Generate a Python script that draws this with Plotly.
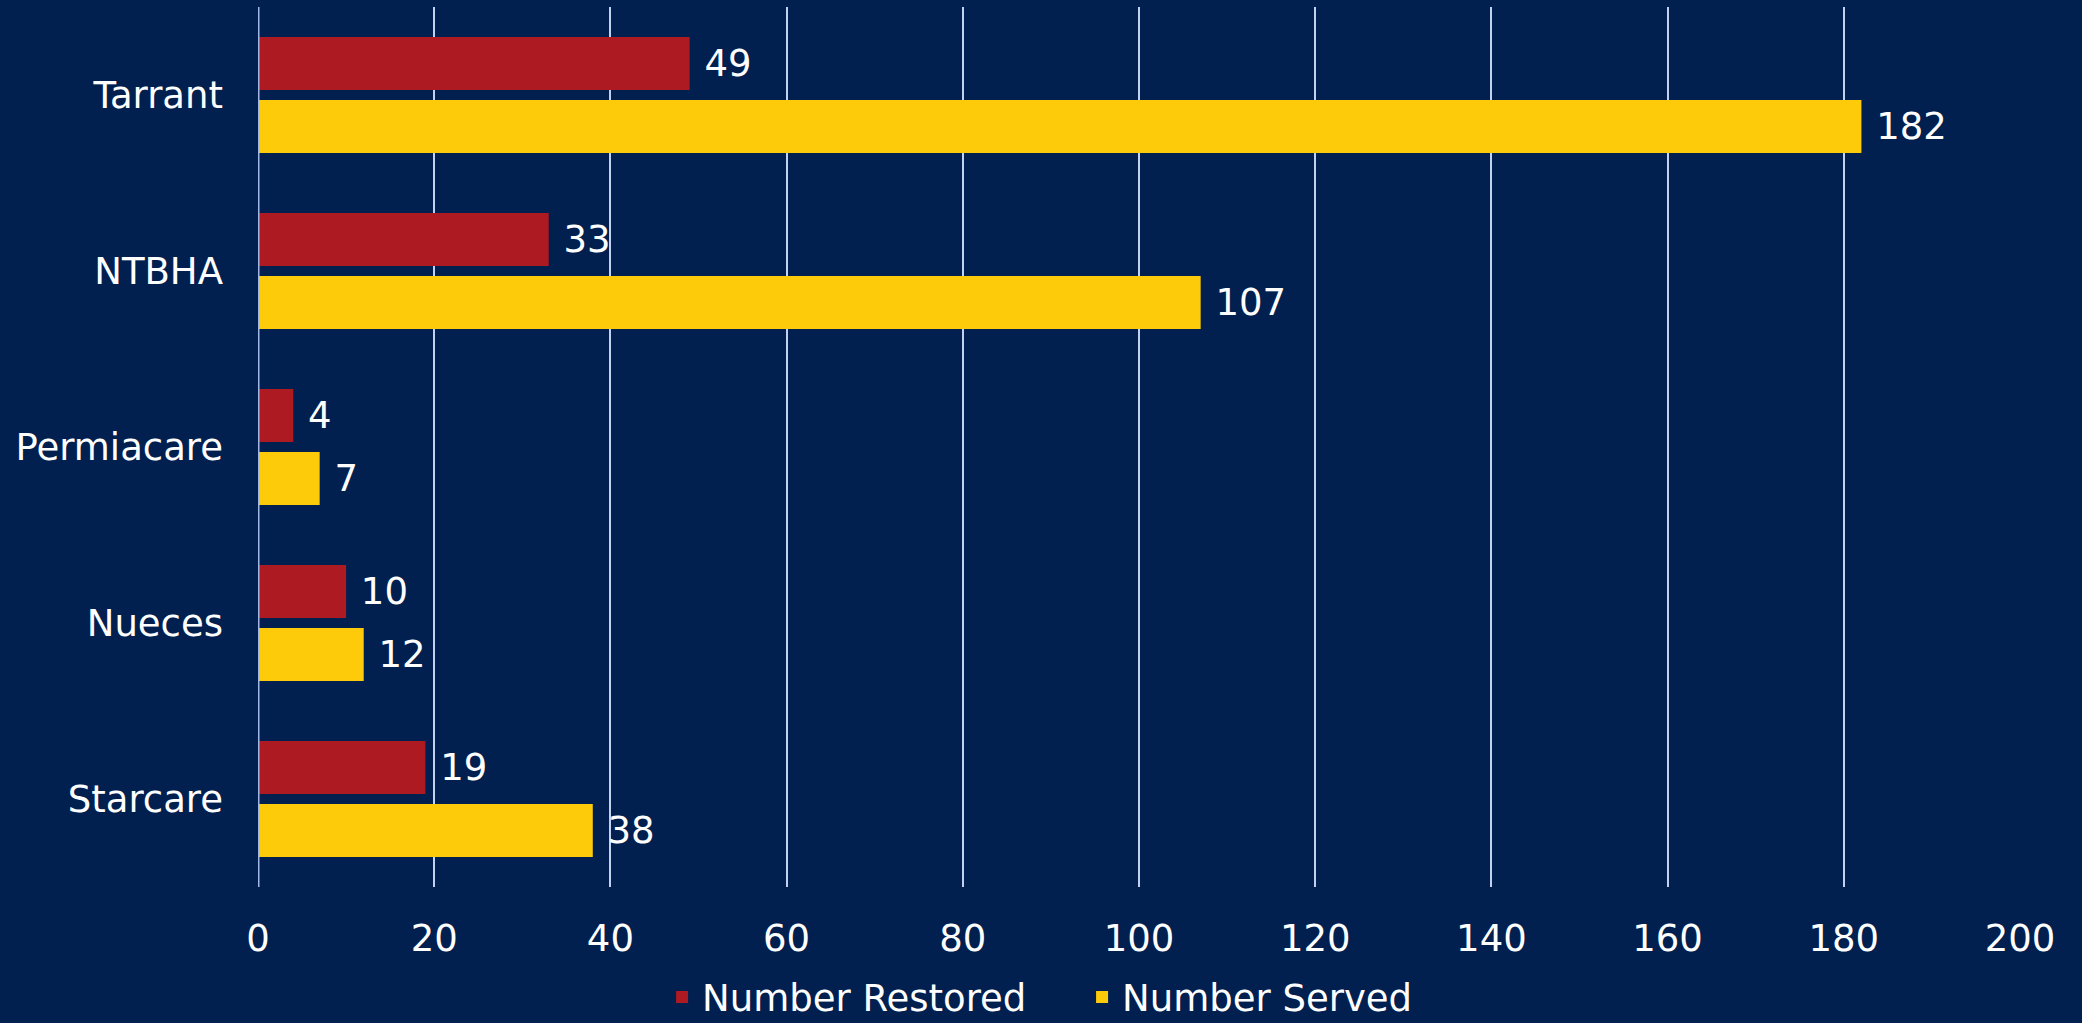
import plotly.graph_objects as go

categories = ["Tarrant", "NTBHA", "Permiacare", "Nueces", "Starcare"]
restored = [49, 33, 4, 10, 19]
served = [182, 107, 7, 12, 38]
x_ticks = [0, 20, 40, 60, 80, 100, 120, 140, 160, 180, 200]

BG = "#012050"
FONT = "DejaVu Sans"
FS = 37

fig = go.Figure()
fig.add_trace(go.Bar(
    y=categories, x=served, orientation="h", name="Number Served",
    marker=dict(color="#FDCB0A", line=dict(width=0)),
    text=served, texttemplate=" %{x}", textposition="outside",
    textfont=dict(color="white", size=FS, family=FONT), cliponaxis=False,
))
fig.add_trace(go.Bar(
    y=categories, x=restored, orientation="h", name="Number Restored",
    marker=dict(color="#AD1A21", line=dict(width=0)),
    text=restored, texttemplate=" %{x}", textposition="outside",
    textfont=dict(color="white", size=FS, family=FONT), cliponaxis=False,
))

fig.update_layout(
    width=2082, height=1023,
    margin=dict(l=258, r=62, t=7, b=136),
    paper_bgcolor=BG, plot_bgcolor=BG,
    font=dict(family=FONT, size=FS, color="white"),
    barmode="group", bargap=0.284, bargroupgap=0.16,
    showlegend=True,
    legend=dict(orientation="h", traceorder="reversed",
                xref="container", yref="container",
                x=0.318, xanchor="left", y=0.025, yanchor="middle",
                font=dict(size=FS, color="white", family=FONT),
                bgcolor="rgba(0,0,0,0)", itemwidth=30,
                entrywidth=375, entrywidthmode="pixels"),
    xaxis=dict(range=[0, 200], tickvals=x_ticks, showgrid=True,
               gridcolor="#C3D1EE", gridwidth=1.5, zeroline=False,
               showline=False, ticks="", ticklabelstandoff=26,
               tickfont=dict(size=FS, color="white", family=FONT)),
    yaxis=dict(categoryorder="array", categoryarray=categories[::-1],
               showgrid=False, zeroline=False, showline=False, ticks="",
               ticklabelstandoff=34,
               tickfont=dict(size=FS, color="white", family=FONT)),
)
fig.add_vline(x=0, line=dict(color="#9FB8E6", width=3), layer="above")

fig.write_html("out.html", config={"displayModeBar": False},
               post_script="document.body.style.margin='0';document.body.style.background='#012050';")
